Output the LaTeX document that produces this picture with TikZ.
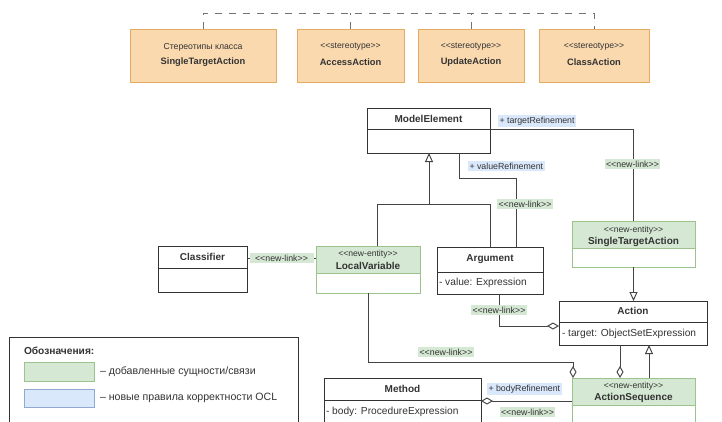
\documentclass[tikz,border=0pt]{standalone}
\usepackage{fontspec}
\setmainfont{Liberation Sans}[Ligatures=TeXOff]
\usetikzlibrary{arrows.meta,fit}
\definecolor{gfill}{HTML}{D5E8D4}
\definecolor{gline}{HTML}{9CC28E}
\definecolor{bfill}{HTML}{DAE8FC}
\definecolor{bline}{HTML}{8FA9D0}
\definecolor{ofill}{HTML}{FAD9AF}
\definecolor{oline}{HTML}{E3AC62}
\definecolor{ink}{HTML}{333333}
\definecolor{wire}{HTML}{444444}
\newcommand{\umlcls}[8]{%
  \node[fit={(#2,#3) (#4,#5)}, inner sep=0pt, outer sep=0pt] (#1) {};
  \coordinate (#1d) at (0,#6);
  \fill[#7] (#1.north west) rectangle (#1.east |- #1d);
  \draw[#8, line width=0.95pt] (#1.north west) rectangle (#1.south east);
  \draw[#8, line width=0.95pt] (#1.west |- #1d) -- (#1.east |- #1d);
}
\begin{document}
\begin{tikzpicture}[x=1pt,y=-1pt,
  every node/.style={text=ink, inner sep=0pt, outer sep=0pt},
  ttl/.style={font=\fontsize{10}{12}\selectfont\bfseries},
  sttl/.style={font=\fontsize{9.3}{11}\selectfont\bfseries},
  attr/.style={font=\fontsize{10.2}{12}\selectfont, anchor=west},
  stereo/.style={font=\fontsize{8.6}{10}\selectfont},
  newlink/.style={fill=gfill, inner xsep=1.5pt, inner ysep=1.5pt, font=\fontsize{8.8}{10}\selectfont},
  rule/.style={fill=bfill, inner xsep=1.5pt, inner ysep=1.5pt, font=\fontsize{8.8}{10}\selectfont},
  wireline/.style={draw=wire, line width=0.95pt},
  gen/.style={wireline, -{Triangle[open, length=9pt, width=8pt, fill=white]}},
  agg/.style={wireline, -{Diamond[open, length=12pt, width=7pt, fill=white]}},
  aggstart/.style={wireline, {Diamond[open, length=12pt, width=7pt, fill=white]}-},
  dashline/.style={draw=gray!90!black, line width=0.9pt, dash pattern=on 7pt off 7pt},
  stbox/.style={fill=ofill, draw=oline, line width=0.9pt, inner sep=0pt, outer sep=0pt}
]
\useasboundingbox (0,0) rectangle (722,421);
\clip (0,0) rectangle (722,421);
\fill[white] (0,0) rectangle (722,421);

% ---------- stereotype boxes ----------
\node[stbox, fit={(130,29) (276,82)}] (s1) {};
\node[stbox, fit={(297,29) (404,82)}] (s2) {};
\node[stbox, fit={(418,29) (524,82)}] (s3) {};
\node[stbox, fit={(539,29) (649,82)}] (s4) {};
\node[font=\fontsize{8.7}{10}\selectfont] (s1a) at (203,47) {Стереотипы класса};
\node[sttl] (s1b) at (203,62) {SingleTargetAction};
\node[stereo] (s2a) at (350.5,47) {<<stereotype>>};
\node[sttl] (s2b) at (350.5,62) {AccessAction};
\node[stereo] (s3a) at (471,47) {<<stereotype>>};
\node[sttl] (s3b) at (471,62) {UpdateAction};
\node[stereo] (s4a) at (594,47) {<<stereotype>>};
\node[sttl] (s4b) at (594,62) {ClassAction};
\coordinate (topline) at (0,13);
\draw[dashline] (s1.north) -- (s1.north |- topline) -| (s4.north);
\draw[dashline] (s2.north) -- (s2.north |- topline);
\draw[dashline] (s3.north) -- (s3.north |- topline);

% ---------- classes ----------
\umlcls{me}{367}{108}{490}{153}{129}{white}{ink}
\node[ttl] (me-t) at (428.5,119) {ModelElement};

\umlcls{cl}{158}{246}{247}{292}{268}{white}{ink}
\node[ttl] (cl-t) at (202.5,257) {Classifier};

\umlcls{lv}{316}{246}{420}{293}{273}{gfill}{gline}
\node[stereo] (lv-s) at (368,254) {<<new-entity>>};
\node[ttl] (lv-t) at (368,266) {LocalVariable};

\umlcls{arg}{437}{247}{543}{294}{272}{white}{ink}
\node[ttl] (arg-t) at (490,259) {Argument};
\node[attr] (arg-a) at (439,283) {- value: Expression};

\umlcls{sta}{572}{221}{695}{267}{248}{gfill}{gline}
\node[stereo] (sta-s) at (633.5,230) {<<new-entity>>};
\node[ttl] (sta-t) at (633.5,242) {SingleTargetAction};

\umlcls{act}{559}{301}{707}{345}{322}{white}{ink}
\node[ttl] (act-t) at (633,311) {Action};
\node[attr] (act-a) at (562,334) {- target: ObjectSetExpression};

\umlcls{as}{572}{378}{695}{440}{405}{gfill}{gline}
\node[stereo] (as-s) at (633.5,386) {<<new-entity>>};
\node[ttl] (as-t) at (633.5,398) {ActionSequence};

\umlcls{mt}{324}{378}{481}{440}{400}{white}{ink}
\node[ttl] (mt-t) at (402.5,389) {Method};
\node[attr] (mt-a) at (326,412) {- body: ProcedureExpression};

% ---------- connectors ----------
% targetRefinement
\coordinate (tr) at (490,129);
\draw[wireline] (tr) -| (sta.north);
\node[rule, anchor=west] (tr-l) at (498,121) {+ targetRefinement};
\node[newlink] (tr-n) at (632.5,164) {<<new-link>>};

% valueRefinement
\coordinate (v1) at (459,178);
\coordinate (v2) at (516,178);
\draw[wireline] (me.south -| v1) -- (v1) -- (v2) -- (arg.north -| v2);
\node[rule, anchor=west] (vr-l) at (468,166) {+ valueRefinement};
\node[newlink] (vr-n) at (525,204) {<<new-link>>};

% generalization to ModelElement
\coordinate (gj) at (429,204);
\coordinate (gl) at (377,204);
\coordinate (gr) at (490,204);
\draw[gen] (gj) -- (me.south -| gj);
\draw[wireline] (lv.north -| gl) -- (gl) -- (gr) -- (arg.north -| gr);

% Classifier -- LocalVariable
\coordinate (c258) at (0,258);
\draw[wireline] (cl.east |- c258) -- (lv.west |- c258);
\node[newlink, minimum width=64pt] (cl-n) at (281.5,258) {<<new-link>>};

% Argument -> Action
\coordinate (a1) at (499,326);
\draw[agg] (arg.south -| a1) -- (a1) -- (act.west |- a1);
\node[newlink] (aa-n) at (499,310) {<<new-link>>};

% LocalVariable -> ActionSequence
\coordinate (l2) at (368,362);
\coordinate (l3) at (573,362);
\draw[agg] (lv.south) -- (l2) -- (l3) -- (as.north -| l3);
\node[newlink] (la-n) at (446,352) {<<new-link>>};

% SingleTargetAction -> Action
\draw[gen] (sta.south) -- (act.north -| sta.south);

% Action <-> ActionSequence
\coordinate (x620) at (620,0);
\coordinate (x649) at (649,0);
\draw[agg] (act.south -| x620) -- (as.north -| x620);
\draw[gen] (as.north -| x649) -- (act.south -| x649);

% Method -> ActionSequence
\coordinate (b401) at (0,401);
\draw[aggstart] (mt.east |- b401) -- (as.west |- b401);
\node[rule, anchor=west] (br-l) at (487,389) {+ bodyRefinement};
\node[newlink] (br-n) at (527.5,412) {<<new-link>>};

% ---------- legend ----------
\node[fit={(9,337) (298,440)}, draw=ink, line width=0.95pt] (lg) {};
\node[font=\fontsize{10.2}{12}\selectfont\bfseries, anchor=west] (lg-t) at (24,351) {Обозначения:};
\node[fit={(24,362) (94,381)}, fill=gfill, draw=gline, line width=0.7pt] (lg-g) {};
\node[fit={(24,389) (94,407)}, fill=bfill, draw=bline, line width=0.7pt] (lg-b) {};
\node[font=\fontsize{10.6}{12}\selectfont, anchor=west] (lg-gt) at (100,372) {– добавленные сущности/связи};
\node[font=\fontsize{10.6}{12}\selectfont, anchor=west] (lg-bt) at (100,398) {– новые правила корректности OCL};
\end{tikzpicture}
\end{document}
